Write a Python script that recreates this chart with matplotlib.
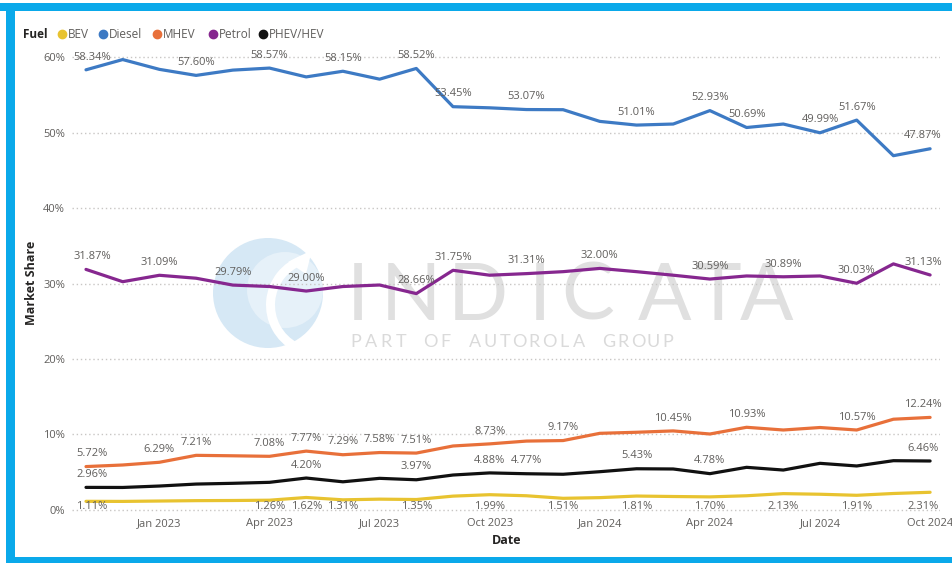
import matplotlib
matplotlib.use("Agg")
import matplotlib.pyplot as plt
from matplotlib.patches import Circle, Rectangle, Wedge, Polygon
from matplotlib.lines import Line2D

plt.rcParams['font.family'] = ['Open Sans', 'DejaVu Sans']

months = ["Nov 2022", "Dec 2022", "Jan 2023", "Feb 2023", "Mar 2023", "Apr 2023",
          "May 2023", "Jun 2023", "Jul 2023", "Aug 2023", "Sep 2023", "Oct 2023",
          "Nov 2023", "Dec 2023", "Jan 2024", "Feb 2024", "Mar 2024", "Apr 2024",
          "May 2024", "Jun 2024", "Jul 2024", "Aug 2024", "Sep 2024", "Oct 2024"]
tick_months = ["Jan 2023", "Apr 2023", "Jul 2023", "Oct 2023",
               "Jan 2024", "Apr 2024", "Jul 2024", "Oct 2024"]

diesel = [58.34, 59.70, 58.40, 57.60, 58.30, 58.57, 57.40, 58.15, 57.10, 58.52,
          53.45, 53.30, 53.07, 53.05, 51.50, 51.01, 51.15, 52.93, 50.69, 51.15,
          49.99, 51.67, 46.95, 47.87]
petrol = [31.87, 30.24, 31.09, 30.70, 29.79, 29.60, 29.00, 29.60, 29.80, 28.66,
          31.75, 31.10, 31.31, 31.57, 32.00, 31.57, 31.10, 30.59, 31.00, 30.89,
          31.00, 30.03, 32.60, 31.13]
mhev = [5.72, 5.93, 6.29, 7.21, 7.15, 7.08, 7.77, 7.29, 7.58, 7.51,
        8.45, 8.73, 9.10, 9.17, 10.13, 10.27, 10.45, 10.04, 10.93, 10.57,
        10.90, 10.57, 12.00, 12.24]
phev = [2.96, 2.95, 3.14, 3.40, 3.50, 3.63, 4.20, 3.70, 4.16, 3.97,
        4.60, 4.88, 4.77, 4.70, 5.04, 5.43, 5.40, 4.78, 5.62, 5.26,
        6.15, 5.80, 6.50, 6.46]
bev = [1.11, 1.10, 1.15, 1.20, 1.22, 1.26, 1.62, 1.31, 1.40, 1.35,
       1.80, 1.99, 1.85, 1.51, 1.60, 1.81, 1.75, 1.70, 1.85, 2.13,
       2.05, 1.91, 2.15, 2.31]

# indices of points that carry a data label
diesel_lbl = [0, 3, 5, 7, 9, 10, 12, 15, 17, 18, 20, 21, 23]
petrol_lbl = [0, 2, 4, 6, 9, 10, 12, 14, 17, 19, 21, 23]
mhev_lbl = [0, 2, 3, 5, 6, 7, 8, 9, 11, 13, 16, 18, 21, 23]
phev_lbl = [0, 6, 9, 11, 12, 15, 17, 23]
bev_lbl = [0, 5, 6, 7, 9, 11, 13, 15, 17, 19, 21, 23]

series_names = ["BEV", "Diesel", "MHEV", "Petrol", "PHEV/HEV"]
colors = {"BEV": "#E8C330", "Diesel": "#3D7AC4", "MHEV": "#E8703A",
          "Petrol": "#86278F", "PHEV/HEV": "#111111"}

W, H = 953, 563
fig = plt.figure(figsize=(W / 100, H / 100), dpi=100)
fig.patch.set_facecolor("white")

# background/watermark layer in pixel coordinates
bg = fig.add_axes([0, 0, 1, 1], zorder=-1)
bg.set_xlim(0, W)
bg.set_ylim(H, 0)
bg.axis("off")

frame_c = "#0AA9EA"
bg.add_patch(Rectangle((0, 3), W, 8, facecolor=frame_c, edgecolor="none"))
bg.add_patch(Rectangle((6, 3), 9, H, facecolor=frame_c, edgecolor="none"))
bg.add_patch(Rectangle((6, H - 6), W, 6, facecolor=frame_c, edgecolor="none"))

# INDICATA watermark
logo_c = "#D6E8F5"
bg.add_patch(Circle((268, 293), 55, facecolor=logo_c, edgecolor="none"))
bg.add_patch(Circle((285, 290), 38, facecolor="#E6F1F9", edgecolor="none"))
bg.add_patch(Wedge((318, 305), 52, 118, 252, width=9, facecolor="white", edgecolor="none"))
bg.add_patch(Polygon([[288, 262], [312, 250], [306, 274]], closed=True,
                     facecolor="white", edgecolor="none"))
wm = "#E0E0E0"
letters = "INDICATA"
lx = [358, 411, 478, 540, 588, 665, 718, 767]
for ch, xx in zip(letters, lx):
    bg.text(xx, 320, ch, fontsize=57, color=wm, ha="center", va="baseline",
            family=["Lato", "DejaVu Sans"])
sub = "PART OF AUTOROLA GROUP"
sx0, sx1 = 356, 668
for k, ch in enumerate(sub):
    bg.text(sx0 + (sx1 - sx0) * k / (len(sub) - 1), 347, ch, fontsize=13, color="#DADADA",
            ha="center", va="baseline", family=["Lato", "DejaVu Sans"])

# plot area
ax_l, ax_r, ax_t, ax_b = 72, 940, 50, 517
ax = fig.add_axes([ax_l / W, 1 - ax_b / H, (ax_r - ax_l) / W, (ax_b - ax_t) / H], zorder=1)
ax.set_facecolor("none")
x = list(range(len(months)))
ppm = 36.7
ax.set_xlim(-(86 - ax_l) / ppm, (ax_r - 86) / ppm)
ax.set_ylim(-(ax_b - 509.7) / 7.54, (509.7 - ax_t) / 7.54)

for s in ax.spines.values():
    s.set_visible(False)
ax.set_yticks([0, 10, 20, 30, 40, 50, 60])
ax.set_yticklabels([f"{v}%" for v in [0, 10, 20, 30, 40, 50, 60]])
ax.set_xticks([months.index(m) for m in tick_months])
ax.set_xticklabels(tick_months)
ax.tick_params(axis="both", length=0, labelsize=8, labelcolor="#605E5C")
ax.tick_params(axis="y", pad=5)
ax.tick_params(axis="x", pad=1)
ax.grid(axis="y", color="#C8C6C4", linestyle=(0, (1, 2)), linewidth=1)
ax.set_axisbelow(True)

data = {"BEV": bev, "Diesel": diesel, "MHEV": mhev, "Petrol": petrol, "PHEV/HEV": phev}
lbls = {"BEV": bev_lbl, "Diesel": diesel_lbl, "MHEV": mhev_lbl, "Petrol": petrol_lbl,
        "PHEV/HEV": phev_lbl}

for name in series_names:
    ax.plot(x, data[name], color=colors[name], lw=2.3, solid_joinstyle="round",
            solid_capstyle="round", zorder=3)

lbl_color = "#605E5C"
for name in series_names:
    vals = data[name]
    for i in lbls[name]:
        dx = 0
        if i == 0:
            dx = 6
        elif i == len(x) - 1:
            dx = -7
        txt = f"{vals[i]:.2f}%"
        if name == "BEV":
            ax.annotate(txt, xy=(i, vals[i]), xytext=(i + dx / ppm, 0.42),
                        textcoords="data", ha="center", va="center", fontsize=8,
                        color=lbl_color, zorder=4)
        else:
            ax.annotate(txt, xy=(i, vals[i]), xytext=(dx * 0.72, 9.2),
                        textcoords="offset points", ha="center", va="center",
                        fontsize=8, color=lbl_color, zorder=4)

# axis titles
fig.text(507 / W, 1 - 541 / H, "Date", ha="center", va="center", fontsize=9,
         fontweight="bold", color="#252423")
fig.text(32 / W, 1 - 283 / H, "Market Share", ha="center", va="center", fontsize=9,
         fontweight="bold", color="#252423", rotation=90)

# legend
ly = 1 - 34 / H
fig.text(23 / W, ly, "Fuel", ha="left", va="center", fontsize=8.5, fontweight="bold",
         color="#252423")
dot_x = [62, 103, 157, 213, 263]
for name, dxp in zip(series_names, dot_x):
    fig.add_artist(Line2D([dxp / W], [ly], marker="o", markersize=6, color=colors[name],
                          linestyle="none", transform=fig.transFigure))
    fig.text((dxp + 6) / W, ly, name, ha="left", va="center", fontsize=8.5,
             color="#605E5C")

fig.savefig("out.png", dpi=100)
